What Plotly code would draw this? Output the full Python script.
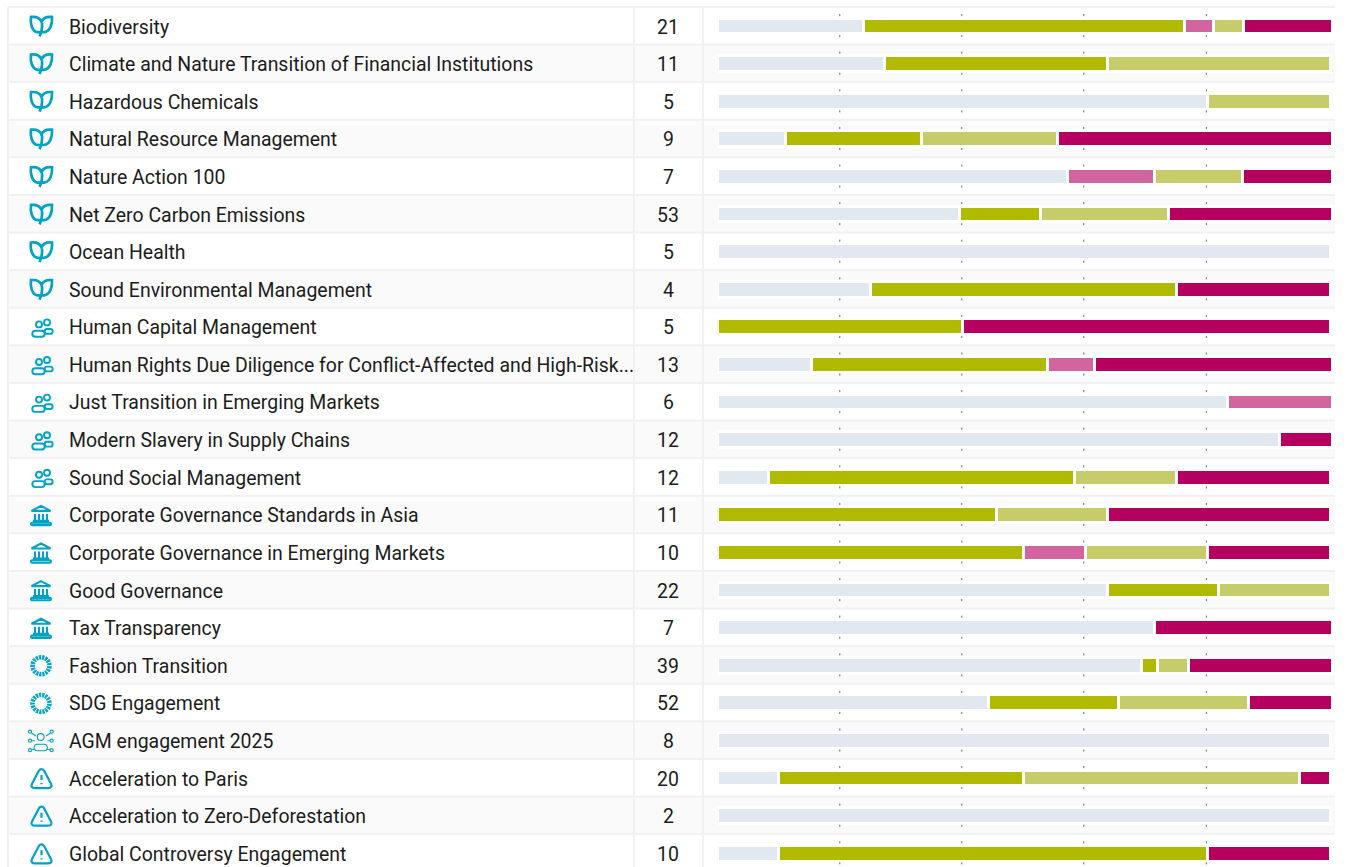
import math
import re
import plotly.graph_objects as go

W, H = 1347, 867
topics = ["Biodiversity", "Climate and Nature Transition of Financial Institutions", "Hazardous Chemicals",
          "Natural Resource Management", "Nature Action 100", "Net Zero Carbon Emissions", "Ocean Health",
          "Sound Environmental Management", "Human Capital Management",
          "Human Rights Due Diligence for Conflict-Affected and High-Risk...", "Just Transition in Emerging Markets",
          "Modern Slavery in Supply Chains", "Sound Social Management", "Corporate Governance Standards in Asia",
          "Corporate Governance in Emerging Markets", "Good Governance", "Tax Transparency", "Fashion Transition",
          "SDG Engagement", "AGM engagement 2025", "Acceleration to Paris", "Acceleration to Zero-Deforestation",
          "Global Controversy Engagement"]
counts = [21, 11, 5, 9, 7, 53, 5, 4, 5, 13, 6, 12, 12, 11, 10, 22, 7, 39, 52, 8, 20, 2, 10]
icons = ["leaf"] * 8 + ["people"] * 5 + ["bank"] * 4 + ["wheel"] * 2 + ["agm"] + ["warn"] * 3

grey_share =    [23.8, 27.3, 80, 11.1, 57.1, 39.6, 100.05, 25, 0, 15.4, 83.3, 91.7, 8.3, 0, 0, 63.6, 71.4, 69.2, 44.2, 100.05, 10, 100.05, 10]
green_share =   [52.4, 36.4, 0, 22.2, 0, 13.2, 0, 50, 40, 38.5, 0, 0, 50, 45.5, 50, 18.2, 0, 2.6, 21.2, 0, 40, 0, 70]
pink_share =    [4.8, 0, 0, 0, 14.3, 0, 0, 0, 0, 7.7, 17.05, 0, 0, 0, 10, 0, 0, 0, 0, 0, 0, 0, 0]
olive_share =   [4.8, 36.35, 20.05, 22.2, 14.3, 20.8, 0, 0, 0, 0, 0, 0, 16.7, 18.2, 20, 18.25, 0, 5.1, 21.2, 0, 45, 0, 0]
magenta_share = [14.65, 0, 0, 44.85, 14.65, 26.75, 0, 25.05, 60.05, 38.75, 0, 8.65, 25.05, 36.35, 20.05, 0, 28.95, 23.45, 13.75, 0, 5.05, 0, 20.05]
series = [(grey_share, "#E1E8F0"), (green_share, "#AFBA00"), (pink_share, "#D264A0"),
          (olive_share, "#C6CC69"), (magenta_share, "#B5005F")]
grid_values = [20, 39.9, 59.8, 79.8]

ICON = "#00A3C4"
TEXT = "#1C1C1C"
BORDER = "#F1F1F1"
ROW_TOP = 6.9
ROW_H = 37.6
BAR_C = 26
rows = list(range(len(topics)))
row_y = lambda py: (py - BAR_C) / ROW_H


def px_path(path, cx, cy):
    """Turn a path in pixels around (cx, cy), y down, into paper coordinates."""
    idx = [0]
    def sub(m):
        v = float(m.group(0))
        i = idx[0]
        idx[0] += 1
        return f"{(cx + v) / W:.5f}" if i % 2 == 0 else f"{1 - (cy + v) / H:.5f}"
    return re.sub(r"-?\d+\.?\d*", sub, path)


def circ(x, y, r):
    k = 0.5523 * r
    return (f"M{x - r},{y} C{x - r},{y - k} {x - k},{y - r} {x},{y - r} C{x + k},{y - r} {x + r},{y - k} {x + r},{y} "
            f"C{x + r},{y + k} {x + k},{y + r} {x},{y + r} C{x - k},{y + r} {x - r},{y + k} {x - r},{y} Z ")


def pill(x, y, hw, hh):
    r = hh
    k = 0.5523 * r
    return (f"M{x - hw + r},{y - hh} L{x + hw - r},{y - hh} C{x + hw - r + k},{y - hh} {x + hw},{y - k} {x + hw},{y} "
            f"C{x + hw},{y + k} {x + hw - r + k},{y + hh} {x + hw - r},{y + hh} L{x - hw + r},{y + hh} "
            f"C{x - hw + r - k},{y + hh} {x - hw},{y + k} {x - hw},{y} C{x - hw},{y - k} {x - hw + r - k},{y - hh} {x - hw + r},{y - hh} Z ")


def wheel():
    p = ""
    n = 17
    for i in range(n):
        a0 = 2 * math.pi * i / n + 0.04
        a1 = 2 * math.pi * (i + 1) / n - 0.07
        p += (f"M{6.2 * math.cos(a0):.2f},{6.2 * math.sin(a0):.2f} L{10.8 * math.cos(a0):.2f},{10.8 * math.sin(a0):.2f} "
              f"L{10.8 * math.cos(a1):.2f},{10.8 * math.sin(a1):.2f} L{6.2 * math.cos(a1):.2f},{6.2 * math.sin(a1):.2f} Z ")
    return p


ICON_DEFS = {
    "leaf": (41, -0.2, 2.7, None,
             "M-10,-9.5 C-5,-10 -1,-8.5 0.5,-4.5 C2,-8.5 6,-10 11,-9.5 C11.5,-2 9,5 3,5.8 L-3.5,5.8 C-9,5 -11,-3 -10,-9.5 Z "
             "M1,-3.5 C1.5,3 0,7 -1.5,10"),
    "people": (42.5, 0.5, 1.9, None,
               circ(-3.5, -3.5, 3) + circ(4.5, -5.5, 3) + pill(-4, 5.8, 6.2, 3) + pill(6.2, 3.5, 4, 2.4)),
    "bank": (41, 0.0, 2.1, None,
             "M-9.5,-4.5 L0,-9.5 L9.5,-4.5 Z M-6,-1.5 L-6,5 M-2,-1.5 L-2,5 M2,-1.5 L2,5 M6,-1.5 L6,5 M-8,5.5 L8,5.5 "
             + pill(0, 8.5, 10, 1.2)),
    "wheel": (41, 0.0, 0, ICON, wheel()),
    "agm": (41, 0.0, 1.1, None,
            circ(-0.3, -4, 3.4) + pill(-0.3, 6.5, 6.6, 3.3) + circ(-11, -9.3, 1.6) + circ(10.7, -9.3, 1.6)
            + circ(-11, -0.3, 1.6) + circ(10.7, -0.3, 1.6) + circ(-11, 9.2, 1.6) + circ(10.7, 9.2, 1.6)
            + "M-9.5,-8 L-5,-5 M9.5,-8 L5,-5 M-9,-0.3 L-6,-0.3 M9,-0.3 L6.5,-0.3 M-9,8.8 L-7,8.2 M9,8.8 L6.5,8.2"),
    "warn": (41.5, 0.0, 2.2, None,
             "M-2.5,-8 C-1.2,-10 1.2,-10 2.5,-8 L9.5,5.2 C10.8,7.8 9.5,9.5 7,9.5 L-7,9.5 C-9.5,9.5 -10.8,7.8 -9.5,5.2 Z "
             "M0,-3.5 L0,1.5 M0,4.4 L0,5.6"),
}

shapes, notes = [], []
for i in rows:
    top = ROW_TOP + i * ROW_H
    shapes.append(dict(type="rect", xref="paper", yref="paper", x0=8 / W, x1=1335 / W,
                       y0=1 - top / H, y1=1 - (top + ROW_H) / H, layer="below",
                       fillcolor="#FFFFFF" if i % 2 == 0 else "#FAFAFA", line_width=0))
for i in range(len(rows) + 1):
    yy = 1 - (ROW_TOP + i * ROW_H) / H
    shapes.append(dict(type="line", xref="paper", yref="paper", x0=8 / W, x1=1335 / W, y0=yy, y1=yy, layer="below",
                       line=dict(color=BORDER, width=2)))
for px in (8, 634, 703):
    shapes.append(dict(type="line", xref="paper", yref="paper", x0=px / W, x1=px / W,
                       y0=1 - ROW_TOP / H, y1=0, layer="below", line=dict(color=BORDER, width=2)))

for i, (name, n, ic) in enumerate(zip(topics, counts, icons)):
    cy = BAR_C + i * ROW_H + 0.6
    notes.append(dict(text=name, xref="paper", yref="paper", x=66.5 / W, y=1 - (cy + 0.4) / H, xanchor="left",
                      yanchor="middle", showarrow=False, font=dict(family="Roboto", size=19.45, color=TEXT)))
    notes.append(dict(text=str(n), xref="paper", yref="paper", x=668 / W, y=1 - (cy + 0.4) / H, xanchor="center",
                      yanchor="middle", showarrow=False, font=dict(family="Roboto", size=19.45, color=TEXT)))
    cx, dy, lw, fill, path = ICON_DEFS[ic]
    shapes.append(dict(type="path", xref="paper", yref="paper", path=px_path(path, cx, cy + dy),
                       fillcolor=fill or "rgba(0,0,0,0)", line=dict(color=ICON, width=lw)))

fig = go.Figure()
for values, color in series:
    fig.add_bar(y=rows, x=values, orientation="h", width=0.42, marker=dict(color=color, line=dict(color="#FFFFFF", width=3)),
                showlegend=False, hoverinfo="skip")

tx, ty = [], []
for g in grid_values:
    for r in rows:
        for off in (-0.29, 0.27):
            tx.append(g)
            ty.append(r + off)
fig.add_scatter(x=tx, y=ty, mode="markers", showlegend=False, hoverinfo="skip", cliponaxis=True,
                marker=dict(symbol="line-ns", size=1.5, line=dict(color="#666666", width=1)))

ORIGIN = 717.2
fig.update_layout(
    width=W, height=H, autosize=False, margin=dict(l=0, r=0, t=0, b=0), barmode="stack",
    paper_bgcolor="#FFFFFF", plot_bgcolor="rgba(0,0,0,0)", shapes=shapes, annotations=notes,
    xaxis=dict(domain=[ORIGIN / W, 1], range=[0, (W - ORIGIN) / 6.13], visible=False, fixedrange=True),
    yaxis=dict(domain=[0, 1], range=[row_y(H), row_y(0)], visible=False, fixedrange=True),
)
fig.write_html("out.html", config=dict(displayModeBar=False),
               post_script="document.body.style.margin='0';document.body.style.overflow='hidden';")
